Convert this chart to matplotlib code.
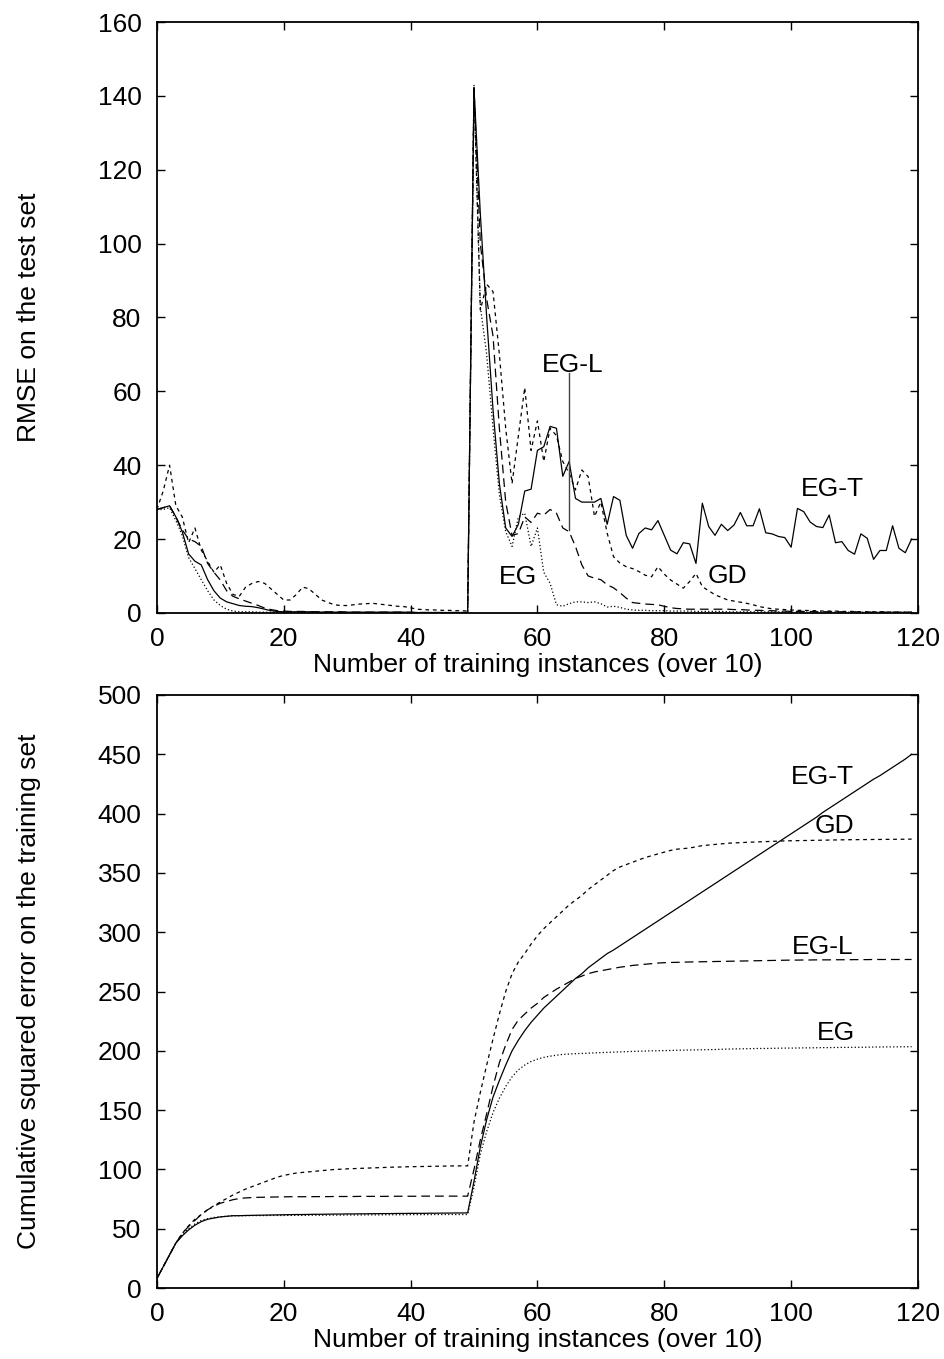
import numpy as np
import matplotlib
matplotlib.use("Agg")
import matplotlib.pyplot as plt

plt.rcParams['font.family'] = ['Liberation Sans', 'DejaVu Sans']

# RMSE on the test set (top panel), one value per x step
rmse_egt = [28, 28.5, 29, 26, 22, 16, 14, 13, 9, 6,
            4, 3, 2.5, 2, 1.8, 1.7, 1.4, 1.0, 0.6, 0.4,
            0.3, 0.3, 0.3, 0.3, 0.3, 0.3, 0.2, 0.2, 0.2, 0.2,
            0.2, 0.2, 0.2, 0.2, 0.2, 0.2, 0.2, 0.2, 0.2, 0.2,
            0.1, 0.1, 0.1, 0.1, 0.1, 0.1, 0.1, 0.1, 0.1, 0.1,
            142, 108, 80, 55, 35, 23, 20.7, 24, 33, 33.5,
            44, 45, 50.5, 50, 37, 41, 31, 30, 30, 30,
            31, 24, 31.5, 30.5, 21, 17.5, 21.5, 23, 22.5, 25,
            21, 17, 16, 19, 18.7, 13.4, 29.7, 23.4, 21, 24,
            22.3, 23.8, 27.2, 23.6, 23.6, 28.2, 21.7, 21.4, 20.7, 20.4,
            17.8, 28.3, 27.4, 24.6, 23.4, 23.1, 26.5, 19, 19.3, 16.9,
            15.9, 21.4, 20.2, 14.5, 16.9, 16.9, 23.6, 17.5, 16.3, 20]
rmse_egl = [28, 28.5, 29, 26, 22.5, 20, 19.3, 18, 13.4, 11,
            8.9, 6, 4.5, 3.8, 3.2, 2.6, 2, 1.3, 0.9, 0.6,
            0.5, 0.4, 0.4, 0.4, 0.3, 0.3, 0.3, 0.3, 0.3, 0.3,
            0.2, 0.2, 0.2, 0.2, 0.2, 0.2, 0.2, 0.2, 0.2, 0.2,
            0.2, 0.1, 0.1, 0.1, 0.1, 0.1, 0.1, 0.1, 0.1, 0.1,
            142, 100, 85, 75, 50, 30, 21, 21.5, 26, 24.5,
            27, 26.5, 28, 27, 23, 22, 18, 13, 10, 9.4,
            9, 7.6, 6.8, 5.5, 4, 2.8, 2.6, 2.4, 2.3, 2.2,
            1.8, 1.4, 1.2, 1.1, 1.0, 1.0, 1.0, 1.0, 1.0, 1.0,
            1.0, 0.9, 0.9, 0.8, 0.7, 0.7, 0.6, 0.6, 0.5, 0.5,
            0.4, 0.4, 0.4, 0.4, 0.3, 0.3, 0.3, 0.3, 0.3, 0.3,
            0.3, 0.2, 0.2, 0.2, 0.2, 0.2, 0.2, 0.2, 0.2, 0.2]
rmse_gd = [28, 33, 40, 29, 26, 19, 23, 17, 14, 11,
           13, 8, 5, 4.5, 7, 8, 8.5, 8, 6.5, 5,
           3.5, 3.5, 5, 7, 6.5, 5, 3.5, 2.8, 2.2, 2,
           2, 2.2, 2.4, 2.5, 2.6, 2.4, 2.2, 2, 1.8, 1.7,
           1.4, 1.0, 0.9, 0.8, 0.8, 0.7, 0.7, 0.6, 0.6, 0.5,
           142.5, 82, 89, 87, 70, 50, 35, 48, 61, 44,
           52, 41, 50, 48, 41, 37.8, 33.3, 38.7, 36.9, 26.1,
           30, 21.6, 15.2, 13.5, 12.5, 12, 11.2, 10.2, 9.8, 12.5,
           10.5, 8.9, 7.8, 6.7, 8.5, 10.7, 7.1, 6, 4.9, 4.2,
           3.5, 3.2, 2.9, 2.6, 2.2, 1.7, 1.4, 1.1, 1, 0.9,
           0.8, 0.7, 0.7, 0.6, 0.6, 0.5, 0.5, 0.5, 0.4, 0.4,
           0.4, 0.3, 0.3, 0.3, 0.3, 0.3, 0.2, 0.2, 0.2, 0.2]
rmse_eg = [28, 28, 28.5, 25, 21, 15, 12, 9, 6, 3.5,
           2, 1, 0.5, 0.3, 0.3, 0.3, 0.2, 0.2, 0.2, 0.2,
           0.2, 0.2, 0.2, 0.2, 0.2, 0.2, 0.2, 0.1, 0.1, 0.1,
           0.1, 0.1, 0.1, 0.1, 0.1, 0.1, 0.1, 0.1, 0.1, 0.1,
           0.1, 0.1, 0.1, 0.1, 0.1, 0.1, 0.1, 0.1, 0.1, 0.1,
           143, 83, 70, 50, 32, 22, 18, 26, 27, 18,
           23, 11, 8, 2.2, 1.8, 2.5, 3, 3, 2.8, 3,
           2.5, 1.6, 1.8, 1.5, 1, 0.8, 0.7, 0.7, 0.6, 0.6,
           0.6, 0.5, 0.5, 0.5, 0.5, 0.4, 0.4, 0.4, 0.4, 0.4,
           0.3, 0.3, 0.3, 0.3, 0.3, 0.3, 0.3, 0.3, 0.3, 0.3,
           0.2, 0.2, 0.2, 0.2, 0.2, 0.2, 0.2, 0.2, 0.2, 0.2,
           0.2, 0.2, 0.2, 0.2, 0.2, 0.2, 0.2, 0.2, 0.2, 0.2]

# cumulative squared error on the training set (bottom panel)
cse_egt = [8, 18, 28, 38, 44, 49, 53, 56, 58, 59,
           60, 60.5, 61, 61, 61.2, 61.3, 61.4, 61.5, 61.6, 61.7,
           61.8, 61.9, 62, 62, 62.1, 62.2, 62.2, 62.3, 62.4, 62.4,
           62.5, 62.5, 62.6, 62.6, 62.7, 62.7, 62.8, 62.8, 62.9, 62.9,
           63, 63, 63, 63.1, 63.1, 63.2, 63.2, 63.3, 63.3, 63.4,
           90, 119, 142, 161, 175, 188, 200, 209, 217, 224,
           230, 236, 241, 246, 251, 256, 261, 265, 270, 274,
           278, 282, 285, 288.5, 292, 295.5, 299, 302.5, 306, 309.5,
           313, 316.5, 320, 323.5, 327, 330.5, 334, 337.5, 341, 344.5,
           348, 351.5, 355, 358.5, 362, 365.5, 369, 372.5, 376, 379.5,
           383, 386.5, 390, 393.5, 397, 401, 404.5, 408, 411.5, 415,
           418.5, 422, 425.5, 429, 432, 435.5, 439, 442.5, 446, 450]
cse_egl = [8, 18, 28, 38, 46, 52, 57, 62, 66, 69,
           71.5, 73, 74.5, 75.5, 76, 76.3, 76.5, 76.6, 76.7, 76.8,
           76.9, 77, 77, 77, 77, 77.1, 77.1, 77.1, 77.2, 77.2,
           77.2, 77.2, 77.3, 77.3, 77.3, 77.3, 77.3, 77.4, 77.4, 77.4,
           77.4, 77.4, 77.5, 77.5, 77.5, 77.5, 77.5, 77.5, 77.5, 77.5,
           100, 125, 147, 170, 190, 205, 218, 226, 231, 236,
           240, 245, 248.5, 252, 255, 258, 261, 263, 265, 266.5,
           267.5, 268.5, 269.5, 270.5, 271.2, 272, 272.5, 273, 273.5, 274,
           274.3, 274.5, 274.6, 274.8, 274.9, 275, 275.1, 275.2, 275.3, 275.4,
           275.5, 275.6, 275.7, 275.8, 275.9, 276, 276.1, 276.2, 276.3, 276.4,
           276.5, 276.5, 276.6, 276.6, 276.7, 276.7, 276.7, 276.8, 276.8, 276.8,
           276.9, 276.9, 276.9, 277, 277, 277, 277, 277, 277, 277]
cse_gd = [8, 18, 28, 38, 46, 52.5, 58, 62, 66, 69.5,
          72.5, 75.5, 78.5, 81, 83.5, 85.5, 87.5, 89.5, 91.5, 93.5,
          95, 96, 97, 97.5, 98, 98.5, 99, 99.5, 100, 100.2,
          100.5, 100.7, 100.9, 101.1, 101.3, 101.5, 101.7, 101.9, 102, 102.2,
          102.3, 102.4, 102.5, 102.6, 102.7, 102.8, 102.9, 103, 103, 103,
          140, 165, 188, 210, 231, 250, 265, 275, 282, 290,
          297, 303, 308, 313, 318, 323, 327, 331, 336, 340,
          344, 348, 352, 355, 357, 359, 361, 363, 364.5, 366,
          367.5, 369, 370, 370.5, 371, 372, 373, 373.5, 374, 374.5,
          375, 375.3, 375.5, 375.8, 376, 376.2, 376.4, 376.6, 376.8, 377,
          377.1, 377.2, 377.3, 377.4, 377.5, 377.6, 377.7, 377.8, 377.9, 378,
          378, 378.1, 378.1, 378.2, 378.2, 378.3, 378.3, 378.4, 378.4, 378.5]
cse_eg = [8, 18, 28, 38, 45, 50, 54, 57, 58.5, 59.5,
          60, 60.5, 61, 61, 61, 61.1, 61.1, 61.1, 61.2, 61.2,
          61.2, 61.3, 61.3, 61.3, 61.4, 61.4, 61.4, 61.5, 61.5, 61.5,
          61.6, 61.6, 61.6, 61.7, 61.7, 61.7, 61.8, 61.8, 61.8, 61.8,
          61.9, 61.9, 61.9, 61.9, 62, 62, 62, 62, 62, 62,
          85, 113, 132, 148, 160, 170, 178, 184, 188, 191,
          193, 194.5, 195.5, 196.3, 197, 197.3, 197.6, 197.8, 198, 198.3,
          198.5, 198.7, 198.9, 199.1, 199.3, 199.5, 199.7, 199.8, 200, 200.1,
          200.2, 200.3, 200.5, 200.6, 200.7, 200.8, 200.9, 201, 201.1, 201.3,
          201.5, 201.6, 201.7, 201.8, 201.9, 202, 202, 202.1, 202.2, 202.3,
          202.3, 202.4, 202.5, 202.5, 202.6, 202.7, 202.7, 202.8, 202.9, 202.9,
          203, 203, 203.1, 203.2, 203.2, 203.3, 203.3, 203.4, 203.4, 203.5]

styles = {
    'EG-T': dict(color='black', lw=0.9, linestyle='-'),
    'EG-L': dict(color='black', lw=0.9, linestyle=(0, (7, 4))),
    'GD': dict(color='black', lw=0.9, linestyle=(0, (3, 3))),
    'EG': dict(color='black', lw=0.9, linestyle=(0, (1, 1.8))),
}

FS = 19

fig = plt.figure(figsize=(9.45, 13.59), dpi=100)
ax1 = fig.add_axes([0.166, 0.549, 0.8054, 0.4348])
ax2 = fig.add_axes([0.166, 0.0522, 0.8054, 0.4364])


def style_axes(ax):
    ax.set_xlim(0, 120)
    ax.set_xticks(range(0, 121, 20))
    ax.tick_params(direction='in', length=6, width=1, labelsize=FS,
                   top=True, right=True)
    ax.tick_params(axis='x', pad=10)
    ax.tick_params(axis='y', pad=11)
    for s in ax.spines.values():
        s.set_linewidth(1.3)
    ax.set_xlabel('Number of training instances (over 10)', fontsize=FS)
    ax.xaxis.set_label_coords(0.5, -0.068)
    ax.yaxis.set_label_coords(-0.152, 0.5)


# top panel
for name, ys in [('GD', rmse_gd), ('EG-L', rmse_egl), ('EG', rmse_eg), ('EG-T', rmse_egt)]:
    ax1.plot(np.arange(len(ys)), ys, **styles[name])
ax1.set_ylabel('RMSE on the test set', fontsize=FS)
style_axes(ax1)
ax1.set_ylim(0, 160)
ax1.set_yticks(range(0, 161, 20))
ax1.plot([65, 65], [65, 22.5], color='#444444', lw=1)
ax1.text(65.5, 67, 'EG-L', fontsize=FS, ha='center', va='center')
ax1.text(106.5, 33.5, 'EG-T', fontsize=FS, ha='center', va='center')
ax1.text(57, 9.8, 'EG', fontsize=FS, ha='center', va='center')
ax1.text(90, 10, 'GD', fontsize=FS, ha='center', va='center')

# bottom panel
for name, ys in [('GD', cse_gd), ('EG-L', cse_egl), ('EG', cse_eg), ('EG-T', cse_egt)]:
    ax2.plot(np.arange(len(ys)), ys, **styles[name])
ax2.set_ylabel('Cumulative squared error on the training set', fontsize=FS)
style_axes(ax2)
ax2.set_ylim(0, 500)
ax2.set_yticks(range(0, 501, 50))
ax2.text(104.9, 431, 'EG-T', fontsize=FS, ha='center', va='center')
ax2.text(106.8, 389.5, 'GD', fontsize=FS, ha='center', va='center')
ax2.text(104.9, 287.5, 'EG-L', fontsize=FS, ha='center', va='center')
ax2.text(107.1, 215, 'EG', fontsize=FS, ha='center', va='center')

fig.savefig('out.png', dpi=100)
